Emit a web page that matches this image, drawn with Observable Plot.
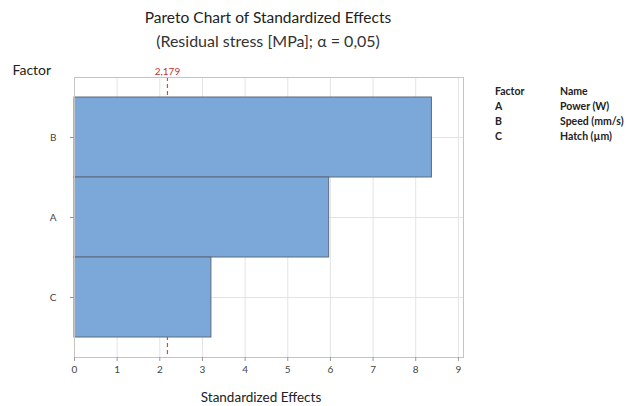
<!DOCTYPE html>
<html>
<head>
<meta charset="utf-8">
<script src="https://cdn.jsdelivr.net/npm/d3@7"></script>
<script src="https://cdn.jsdelivr.net/npm/@observablehq/plot@0.6"></script>
<style>
  html, body { margin: 0; padding: 0; background: #fff; }
  #wrap { position: relative; width: 636px; height: 406px; font-family: Lato, "Open Sans", sans-serif; color: #222; }
  .abs { position: absolute; white-space: nowrap; }
  #title { left: 0; width: 536px; top: 8px; text-align: center; font-size: 15.5px; }
  #subtitle { left: 0; width: 536px; top: 31px; text-align: center; font-size: 16px; color: #333; }
  .leg { font-size: 10.5px; font-weight: 700; color: #222; }
</style>
</head>
<body>
<div id="wrap">
  <div id="chart"></div>
  <div id="title" class="abs">Pareto Chart of Standardized Effects</div>
  <div id="subtitle" class="abs">(Residual stress [MPa]; α = 0,05)</div>
  <div id="legend"></div>
</div>
<script>
const factors = ["B", "A", "C"];
const effects = [8.38, 5.97, 3.21];
const names = ["Power (W)", "Speed (mm/s)", "Hatch (µm)"];
const legendFactors = ["A", "B", "C"];
const xTicks = [0, 1, 2, 3, 4, 5, 6, 7, 8, 9];
const alphaLine = 2.179;
const alphaLabel = "2,179";

const data = factors.map((f, i) => ({factor: f, effect: effects[i]}));

const chart = Plot.plot({
  width: 636,
  height: 406,
  marginLeft: 74,
  marginRight: 173,
  marginTop: 77,
  marginBottom: 49,
  style: {fontFamily: "Lato, 'Open Sans', sans-serif", fontSize: "10px", color: "#333", background: "transparent"},
  x: {domain: [0, 9.12], label: null},
  y: {domain: factors, paddingInner: 0, paddingOuter: 0.235, label: null},
  marks: [
    Plot.gridX(xTicks, {stroke: "#e3e3e3", strokeOpacity: 1}),
    Plot.gridY(factors, {stroke: "#e3e3e3", strokeOpacity: 1}),
    Plot.ruleX([alphaLine], {stroke: "#e0443f", strokeDasharray: "4,3", strokeWidth: 1.2}),
    Plot.barX(data, {x: "effect", y: "factor", fill: "#7ba7d9", stroke: "#5d6b7d", strokeWidth: 1}),
    Plot.frame({stroke: "#c4c4c4"}),
    Plot.axisX(xTicks, {tickSize: 4, tickPadding: 4, tickFormat: d => String(d), label: null, stroke: "#999", fill: "#444"}),
    Plot.axisY({tickSize: 4, tickPadding: 14, label: null, stroke: "#999", fill: "#444"}),
    Plot.text([alphaLabel], {frameAnchor: "top", x: () => alphaLine, dy: -6, fill: "#c9302c", fontSize: 10, lineAnchor: "middle"}),
    Plot.text(["Factor"], {frameAnchor: "top-left", dx: -62, dy: -7, textAnchor: "start", lineAnchor: "middle", fontSize: 14, fill: "#222"}),
    Plot.text(["Standardized Effects"], {frameAnchor: "bottom", dx: -8, dy: 40, lineAnchor: "middle", fontSize: 13.5, fill: "#222"})
  ]
});
document.getElementById("chart").appendChild(chart);

const legend = document.getElementById("legend");
function addLeg(text, x, y) {
  const d = document.createElement("div");
  d.className = "abs leg";
  d.style.left = x + "px";
  d.style.top = (y - 7) + "px";
  d.textContent = text;
  legend.appendChild(d);
}
addLeg("Factor", 495, 92);
addLeg("Name", 560, 92);
legendFactors.forEach((f, i) => {
  addLeg(f, 495, 107 + i * 15);
  addLeg(names[i], 560, 107 + i * 15);
});
</script>
</body>
</html>
